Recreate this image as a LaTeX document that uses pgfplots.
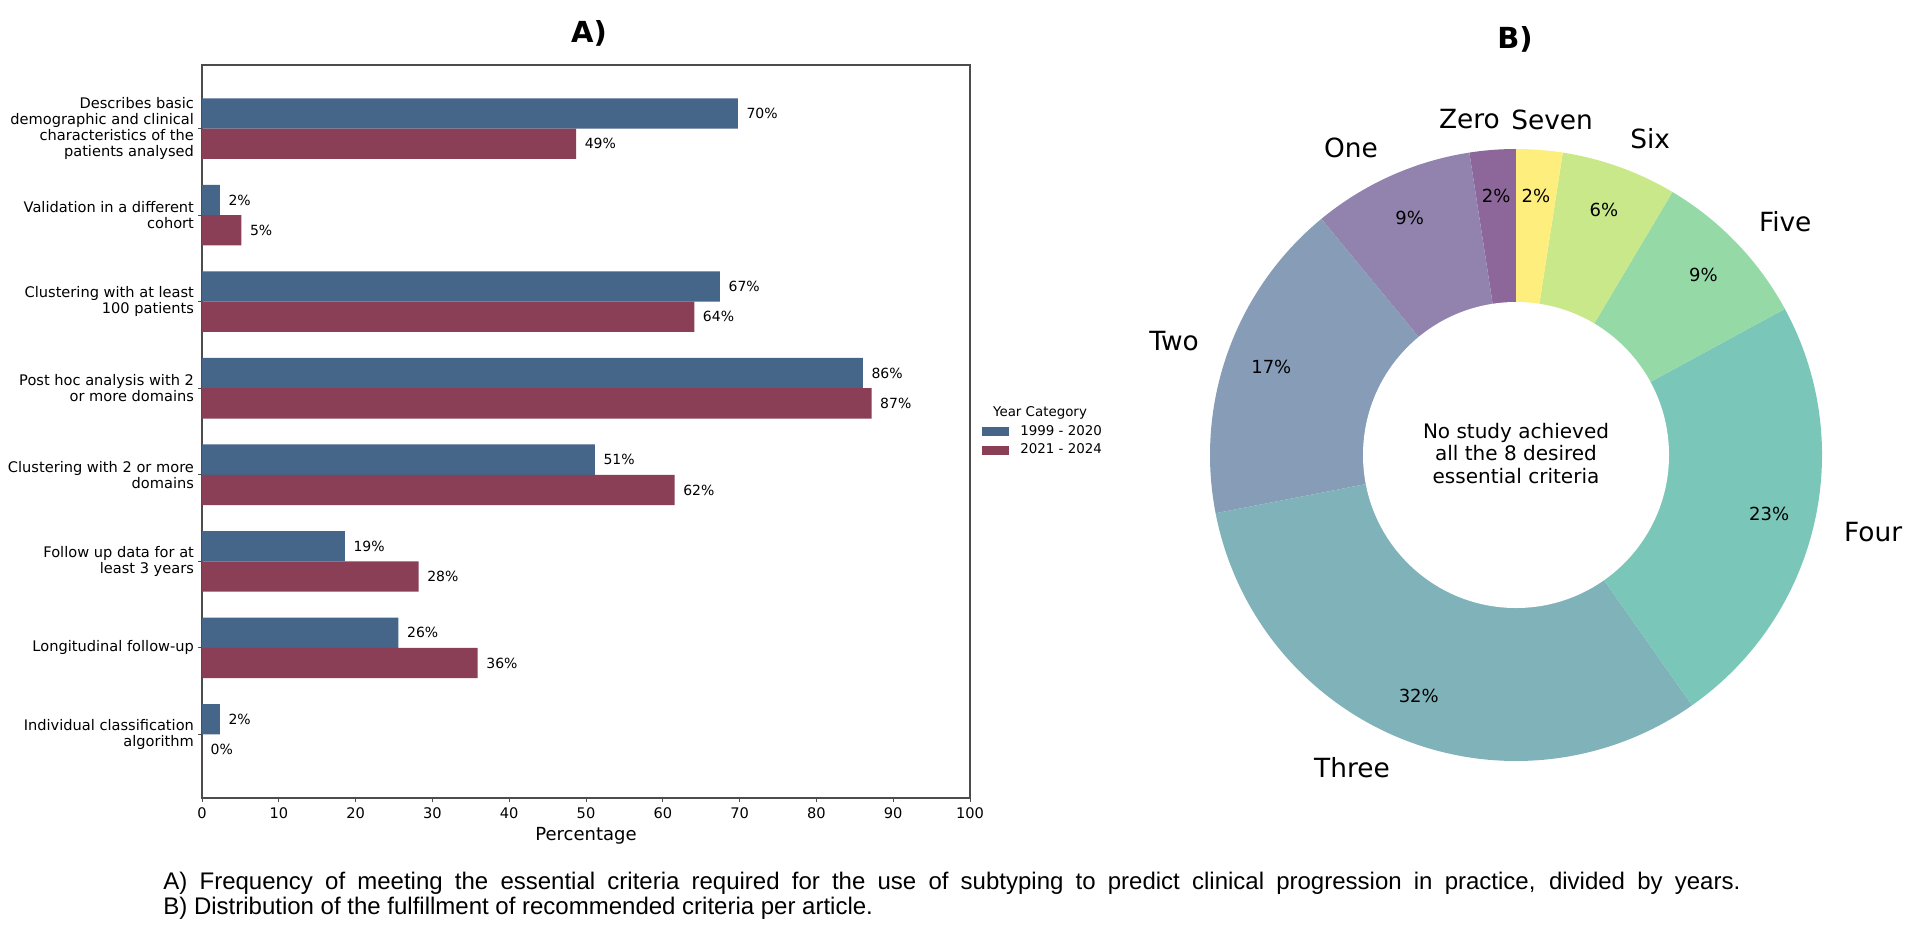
\documentclass[border=0pt]{standalone}
\usepackage{fontspec}
\setmainfont{DejaVu Sans}
\newfontfamily\capfont{Liberation Sans}
\usepackage{pgfplots}
\usepackage{pgfplotstable}
\pgfplotsset{compat=1.18}

\definecolor{early}{HTML}{456589}
\definecolor{late}{HTML}{8B3F56}
\definecolor{pz}{HTML}{8D6799}
\definecolor{po}{HTML}{9183AE}
\definecolor{pt}{HTML}{869CB7}
\definecolor{pth}{HTML}{7FB2B9}
\definecolor{pf}{HTML}{7AC6B8}
\definecolor{pfi}{HTML}{95D9A7}
\definecolor{ps}{HTML}{C8E88A}
\definecolor{pse}{HTML}{FEEE7D}

% criterion position, share met (%) per period, printed label
\pgfplotstableread{
pos early late learly llate
0 69.77 48.72 70 49
1 2.33 5.13 2 5
2 67.44 64.10 67 64
3 86.05 87.18 86 87
4 51.16 61.54 51 62
5 18.60 28.21 19 28
6 25.58 35.90 26 36
7 2.33 0.00 2 0
}\critdata

\begin{document}
\begin{tikzpicture}
\path[use as bounding box, fill=white] (0,0) rectangle (960pt,469.5pt);

% ---- A) grouped horizontal bars
\begin{axis}[
    at={(101pt,70.5pt)}, anchor=south west,
    scale only axis, width=384pt, height=366.5pt,
    xmin=0, xmax=100, ymin=-0.735, ymax=7.735, y dir=reverse,
    xtick={0,10,...,100}, ytick={0,...,7},
    yticklabels={{Describes basic\\demographic and clinical\\characteristics of the\\patients analysed},
        {Validation in a different\\cohort},
        {Clustering with at least\\100 patients},
        {Post hoc analysis with 2\\or more domains},
        {Clustering with 2 or more\\domains},
        {Follow up data for at\\least 3 years},
        {Longitudinal follow-up},
        {Individual classification\\algorithm}},
    tick align=outside, tick pos=left, major tick length=2pt,
    axis line style={black!70, line width=0.6pt},
    every tick/.style={black!70, line width=0.5pt},
    ticklabel style={font=\fontsize{7.3}{8}\selectfont},
    yticklabel style={align=right, xshift=1.5pt},
    xticklabel style={yshift=0.5pt},
    /pgf/number format/assume math mode=true,
    xlabel={Percentage},
    xlabel style={font=\fontsize{9}{10}\selectfont, at={(axis description cs:0.5,-0.058)}, anchor=base},
    xbar, bar width=0.35,
    point meta=explicit symbolic,
    nodes near coords={\pgfplotspointmeta\%},
    nodes near coords style={font=\fontsize{7}{8}\selectfont, anchor=west, xshift=0.8pt},
    legend style={at={(1.007,0.4874)}, anchor=west, draw=none, fill=none,
        font=\fontsize{6.7}{8}\selectfont, row sep=1.1pt,
        nodes={inner sep=0.8pt, text height=5.2pt, text depth=1.5pt}},
    legend cell align=left,
    /tikz/every odd column/.append style={column sep=5pt},
]
\addplot[fill=early, draw=none, bar shift=-0.175,
    legend image code/.code={\fill[early] (0pt,-2.3pt) rectangle (13.5pt,2.3pt);}]
    table[x=early, y=pos, meta=learly] {\critdata};
\addplot[fill=late, draw=none, bar shift=0.175,
    legend image code/.code={\fill[late] (0pt,-2.3pt) rectangle (13.5pt,2.3pt);}]
    table[x=late, y=pos, meta=llate] {\critdata};
\legend{1999 - 2020, 2021 - 2024}
\end{axis}
\node[font=\fontsize{6.7}{8}\selectfont] at (520pt,263pt) {Year Category};
\node[font=\bfseries\fontsize{14.5}{16}\selectfont] at (294.5pt,453pt) {A)};

% ---- B) donut of criteria met per article (82 articles)
\begin{axis}[
    at={(758pt,242pt)}, anchor=center,
    scale only axis, width=306pt, height=306pt,
    xmin=-1, xmax=1, ymin=-1, ymax=1, hide axis, clip=false,
]
\pgfplotsextra{
  \gdef\angA{90}
  \foreach \nm/\cnt/\pc/\col/\dx in {Zero/2/2/pz/5pt, One/7/9/po/0pt, Two/14/17/pt/0pt,
      Three/26/32/pth/0pt, Four/19/23/pf/0pt, Five/7/9/pfi/0pt, Six/5/6/ps/0pt, Seven/2/2/pse/-15.5pt}{
    \pgfmathsetmacro\angB{\angA+\cnt/82*360}
    \pgfmathsetmacro\angM{(\angA+\angB)/2}
    \fill[\col] (axis cs:0,0) -- ++(\angA:153pt) arc[start angle=\angA, end angle=\angB, radius=153pt] -- cycle;
    \pgfmathsetmacro\cx{cos(\angM)}
    \ifdim\cx pt<0pt \def\anc{east}\else\def\anc{west}\fi
    \path (axis cs:0,0) ++(\angM:168.3pt) node[anchor=\anc, inner sep=0pt, xshift=\dx, font=\fontsize{13.2}{15}\selectfont] {\nm};
    \path (axis cs:0,0) ++(\angM:130pt) node[font=\fontsize{9}{10}\selectfont] {\pc\%};
    \global\let\angA\angB
  }
  \fill[white] (axis cs:0,0) circle[radius=76.5pt];
  \node[align=center, font=\fontsize{10}{11.4}\selectfont] at (axis cs:0,0.005)
      {No study achieved\\all the 8 desired\\essential criteria};
}
\end{axis}
\node[font=\bfseries\fontsize{14.5}{16}\selectfont] at (757.5pt,450pt) {B)};

% ---- caption
\node[anchor=north west, inner sep=0pt, text width=788.5pt, align=justify,
      font=\capfont\fontsize{12}{12.85}\selectfont] at (81.5pt,33.8pt)
  {A) Frequency of meeting the essential criteria required for the use of subtyping to predict clinical progression in practice, divided by years.\linebreak
   B) Distribution of the fulfillment of recommended criteria per article.};
\end{tikzpicture}
\end{document}
